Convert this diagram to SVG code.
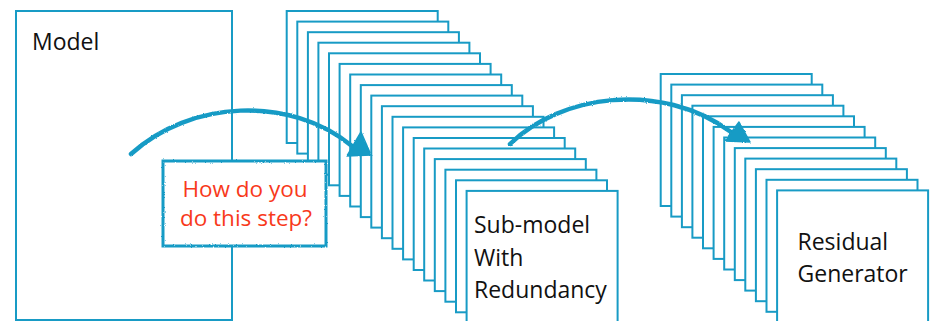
<svg xmlns="http://www.w3.org/2000/svg" width="933" height="321" viewBox="0 0 933 321">
<defs>
<style>
.box{fill:#fff;stroke:#189bc5;stroke-width:2}
.lbl{font-family:"Open Sans","Liberation Sans",sans-serif;font-size:23px;fill:#111}
.q{font-family:"Open Sans","Liberation Sans",sans-serif;font-size:22.5px;fill:#f8391b;text-anchor:middle}
.arc{fill:none;stroke:#189bc5;stroke-width:4.5;stroke-linecap:round}
.head{fill:#189bc5;stroke:#189bc5;stroke-width:1.5;stroke-linejoin:round}
.sketch{fill:#fff;stroke:#189bc5;stroke-width:3}
</style>
<filter id="rough" x="-5%" y="-20%" width="110%" height="140%">
<feTurbulence type="fractalNoise" baseFrequency="0.9" numOctaves="2" seed="3" result="n"/>
<feDisplacementMap in="SourceGraphic" in2="n" scale="2.2" xChannelSelector="R" yChannelSelector="G"/>
</filter>
</defs>
<rect width="933" height="321" fill="#fff"/>

<g id="node-model">
<rect class="box" x="16" y="11" width="216" height="309"/>
<text class="lbl" x="32" y="50">Model</text>
</g>

<g id="node-submodel">
<rect class="box" x="286.7" y="11" width="151" height="132"/>
<rect class="box" x="297.3" y="21.6" width="151" height="132"/>
<rect class="box" x="307.9" y="32.2" width="151" height="132"/>
<rect class="box" x="318.4" y="42.7" width="151" height="132"/>
<rect class="box" x="329" y="53.3" width="151" height="132"/>
<rect class="box" x="339.6" y="63.9" width="151" height="132"/>
<rect class="box" x="350.2" y="74.5" width="151" height="132"/>
<rect class="box" x="360.8" y="85.1" width="151" height="132"/>
<rect class="box" x="371.3" y="95.6" width="151" height="132"/>
<rect class="box" x="381.9" y="106.2" width="151" height="132"/>
<rect class="box" x="392.5" y="116.8" width="151" height="132"/>
<rect class="box" x="403.1" y="127.4" width="151" height="132"/>
<rect class="box" x="413.7" y="138" width="151" height="132"/>
<rect class="box" x="424.2" y="148.5" width="151" height="132"/>
<rect class="box" x="434.8" y="159.1" width="151" height="132"/>
<rect class="box" x="445.4" y="169.7" width="151" height="132"/>
<rect class="box" x="456" y="180.3" width="151" height="132"/>
<rect class="box" x="466.6" y="190.9" width="151" height="132"/>
<text class="lbl" x="474" y="233">Sub-model</text>
<text class="lbl" x="474" y="265.5">With</text>
<text class="lbl" x="474" y="297.5">Redundancy</text>
</g>

<g id="node-residual">
<rect class="box" x="660.7" y="74" width="151" height="132"/>
<rect class="box" x="671.3" y="84.6" width="151" height="132"/>
<rect class="box" x="681.9" y="95.2" width="151" height="132"/>
<rect class="box" x="692.4" y="105.7" width="151" height="132"/>
<rect class="box" x="703" y="116.3" width="151" height="132"/>
<rect class="box" x="713.6" y="126.9" width="151" height="132"/>
<rect class="box" x="724.2" y="137.5" width="151" height="132"/>
<rect class="box" x="734.8" y="148.1" width="151" height="132"/>
<rect class="box" x="745.3" y="158.6" width="151" height="132"/>
<rect class="box" x="755.9" y="169.2" width="151" height="132"/>
<rect class="box" x="766.5" y="179.8" width="151" height="132"/>
<rect class="box" x="777.1" y="190.4" width="151" height="132"/>
<text class="lbl" x="797.5" y="250">Residual</text>
<text class="lbl" x="797.5" y="281.5">Generator</text>
</g>

<g id="connectors">
<path class="arc" filter="url(#rough)" d="M131,154 C190,100 290,95 352,146"/>
<polygon class="head" filter="url(#rough)" points="361,132 347,156 371,155"/>
<path class="arc" filter="url(#rough)" d="M510,144 C560,95 660,80 731,132"/>
<polygon class="head" filter="url(#rough)" points="739,122 725,141 750,142"/>
</g>

<g id="node-question">
<rect class="sketch" filter="url(#rough)" x="163" y="161" width="163" height="85"/>
<text class="q" x="245" y="196.5">How do you</text>
<text class="q" x="246" y="225.5">do this step?</text>
</g>
</svg>
